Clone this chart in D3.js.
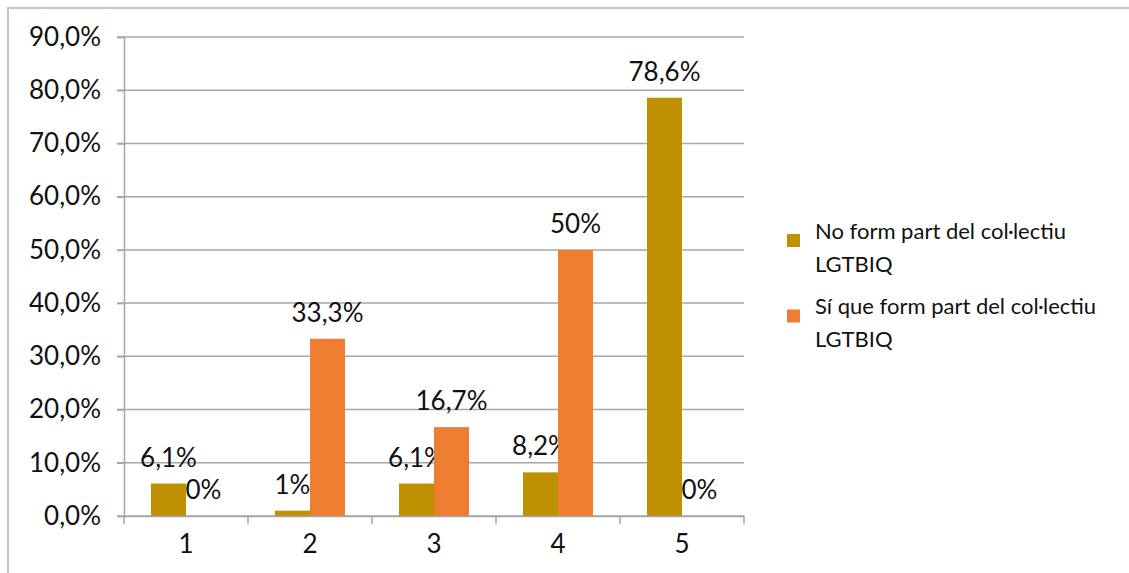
<!DOCTYPE html>
<html><head><meta charset="utf-8">
<script src="https://cdn.jsdelivr.net/npm/d3@7/dist/d3.min.js"></script>
<style>
html,body{margin:0;padding:0;background:#fff;}
svg{display:block;font-family:"Century Gothic","Lato","DejaVu Sans",sans-serif;}
</style></head>
<body>
<svg id="chart" width="1129" height="573"></svg>
<script>
const categories = ["1","2","3","4","5"];
const seriesNames = ["No form part del col·lectiu LGTBIQ","Sí que form part del col·lectiu LGTBIQ"];
const seriesLegendLines = [["No form part del col·lectiu","LGTBIQ"],["Sí que form part del col·lectiu","LGTBIQ"]];
const noPart = [6.1, 1, 6.1, 8.2, 78.6];
const siPart = [0, 33.3, 16.7, 50, 0];
const noLabels = ["6,1%","1%","6,1%","8,2%","78,6%"];
const siLabels = ["0%","33,3%","16,7%","50%","0%"];
const yTicks = [0,10,20,30,40,50,60,70,80,90];
const colors = ["#BF9000","#ED7D31"];

(function(){
const svg = d3.select("#chart");
const pLeft = 124, pRight = 744, pTop = 37, pBottom = 516;
const fs = 26;

// outer frame
svg.append("path").attr("d","M8,580 L8,8 L1140,8")
  .attr("fill","none").attr("stroke","#c4c4c4").attr("stroke-width",2);

const x = d3.scaleBand().domain(categories).range([pLeft,pRight]).padding(0);
const xs = d3.scaleBand().domain([0,1]).range([27,97]).padding(0);
const y = d3.scaleLinear().domain([0,90]).range([pBottom,pTop]);

const fmt = v => d3.format(".1f")(v).replace(".",",") + "%";

// gridlines
svg.append("g").selectAll("line").data(yTicks).join("line")
  .attr("x1",pLeft-7).attr("x2",pRight)
  .attr("y1",d=>y(d)).attr("y2",d=>y(d))
  .attr("stroke","#a6a6a6").attr("stroke-width",1.5);

// y axis
const yAxis = svg.append("g").attr("transform",`translate(${pLeft},0)`)
  .call(d3.axisLeft(y).tickValues(yTicks).tickSize(7).tickPadding(16).tickFormat(fmt));
yAxis.select(".domain").attr("stroke","#a6a6a6").attr("stroke-width",1.5);
yAxis.selectAll(".tick line").attr("stroke","#a6a6a6").attr("stroke-width",1.5);
yAxis.selectAll("text").attr("font-size",fs).attr("fill","#111");
yAxis.attr("font-family",null).attr("font-size",null);

// bars
const series = [noPart, siPart];
const labels = [noLabels, siLabels];
series.forEach((vals,si)=>{
  svg.append("g").selectAll("rect").data(vals).join("rect")
    .attr("x",(d,i)=>x(categories[i])+xs(si))
    .attr("width",xs.bandwidth())
    .attr("y",d=>y(d))
    .attr("height",d=>pBottom-y(d))
    .attr("fill",colors[si]);
  svg.append("g").selectAll("text").data(vals).join("text")
    .attr("x",(d,i)=>x(categories[i])+xs(si)+xs.bandwidth()/2)
    .attr("y",d=>y(d)-17)
    .attr("text-anchor","middle")
    .attr("font-size",fs).attr("fill","#111")
    .text((d,i)=>labels[si][i]);
});

// x axis
const xAxis = svg.append("g").attr("transform",`translate(0,${pBottom})`)
  .call(d3.axisBottom(x).tickSize(0).tickPadding(19));
xAxis.select(".domain").attr("stroke","#a6a6a6").attr("stroke-width",1.5);
xAxis.selectAll("text").attr("font-size",fs).attr("fill","#111");
xAxis.attr("font-family",null).attr("font-size",null);
svg.append("g").selectAll("line").data(d3.range(categories.length+1)).join("line")
  .attr("x1",i=>pLeft+i*x.step()).attr("x2",i=>pLeft+i*x.step())
  .attr("y1",pBottom).attr("y2",pBottom+8)
  .attr("stroke","#a6a6a6").attr("stroke-width",1.5);

// legend
const legY = [240.5, 316];
seriesLegendLines.forEach((lines,si)=>{
  svg.append("rect").attr("x",787).attr("y",legY[si]-6.5).attr("width",13).attr("height",13).attr("fill",colors[si]);
  const t = svg.append("text").attr("x",815).attr("y",legY[si]-2).attr("font-size",22).attr("fill","#111");
  lines.forEach((ln,k)=>t.append("tspan").attr("x",815).attr("dy",k===0?0:33).text(ln));
});
})();
</script>
</body></html>
